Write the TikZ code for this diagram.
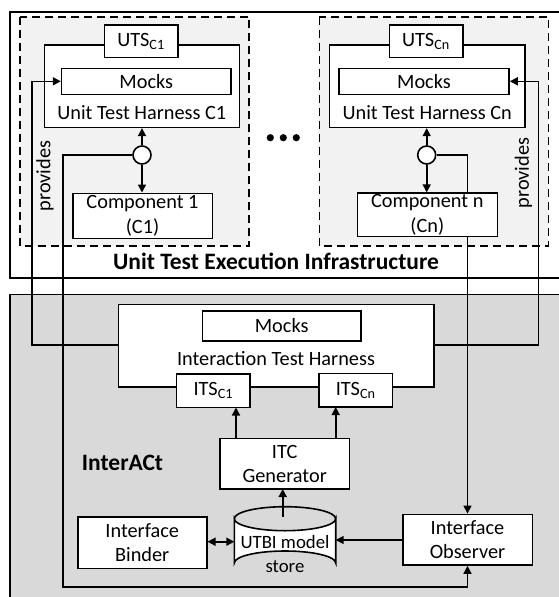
\documentclass[tikz,border=0pt]{standalone}
\usepackage{fontspec}
\setmainfont{Carlito}
\usetikzlibrary{arrows.meta}
\pgfdeclarelayer{back}
\pgfdeclarelayer{mid}
\pgfsetlayers{back,mid,main}
\definecolor{grayfill}{HTML}{D9D9D9}
\definecolor{lightfill}{HTML}{F2F2F2}
\tikzset{
  every node/.style={font=\fontsize{20.3}{24.3}\selectfont},
  boldtxt/.style={inner sep=0pt, font=\fontsize{23.5}{28}\selectfont\bfseries},
  box/.style={draw, fill=white, line width=1.6pt, inner sep=0pt, align=center},
  lbl/.style={inner sep=0pt, align=center},
  arr/.style={line width=1.6pt, -{Triangle[length=8pt,width=8pt]}},
  darr/.style={line width=1.6pt, {Triangle[length=8pt,width=8pt]}-{Triangle[length=8pt,width=8pt]}},
  dashbox/.style={draw, fill=lightfill, line width=1.6pt, dash pattern=on 8pt off 5pt},
  joint/.style={draw, fill=white, circle, line width=1.6pt, minimum size=18pt, inner sep=0pt},
}
\begin{document}
\begin{tikzpicture}[x=1pt,y=-1pt]
\useasboundingbox (0,0) rectangle (559,597);
\clip (0,0) rectangle (559,597);

% outer areas
\begin{pgfonlayer}{back}
  \draw[line width=1.6pt, fill=white] (10,12) rectangle (570,277.7);
  \draw[line width=1.6pt, fill=grayfill] (10,294.3) rectangle (570,610);
  \draw[dashbox] (20,16.7) rectangle (249,246);
  \draw[dashbox] (319.3,16.7) rectangle (548.3,246);
\end{pgfonlayer}

% left unit test harness
\node[box, minimum width=195pt, minimum height=82.3pt] (h1) at (141.8,86.2) {};
\node[box, minimum width=73.4pt, minimum height=32.7pt] (uts1) at (141,41.3) {UTS\textsubscript{C1}};
\node[box, minimum width=169.3pt, minimum height=26pt] (m1) at (146.3,81.3) {Mocks};
\node[lbl] (h1l) at (141.8,113) {Unit Test Harness C1};
\node[joint] (j1) at (142,155) {};
\node[box, minimum width=139.6pt, minimum height=45pt] (c1) at (142.5,215.8) {Component 1\\(C1)};

% right unit test harness
\node[box, minimum width=195.7pt, minimum height=82.3pt] (hn) at (427.2,86.2) {};
\node[box, minimum width=73.4pt, minimum height=32.7pt] (utsn) at (426,41.3) {UTS\textsubscript{Cn}};
\node[box, minimum width=170pt, minimum height=26pt] (mn) at (424,81.3) {Mocks};
\node[lbl] (hnl) at (427.2,113) {Unit Test Harness Cn};
\node[joint] (jn) at (426.7,155) {};
\node[box, minimum width=140pt, minimum height=43.5pt] (cn) at (427.3,214.9) {Component n\\(Cn)};

% dots
\fill (270.3,137.7) circle (3.6pt) (283.3,137.7) circle (3.6pt) (296.3,137.7) circle (3.6pt);

\node[boldtxt] (uteil) at (276,261.7) {Unit Test Execution Infrastructure};

% interaction test harness
\node[box, minimum width=315.7pt, minimum height=82.4pt] (ith) at (276.2,345.5) {};
\node[box, minimum width=158.7pt, minimum height=30pt] (mith) at (281.7,326) {Mocks};
\node[lbl] (ithl) at (276,358.3) {Interaction Test Harness};
\node[box, minimum width=73.3pt, minimum height=33.5pt] (its1) at (213.3,390.7) {ITS\textsubscript{C1}};
\node[box, minimum width=73.3pt, minimum height=33.5pt] (itsn) at (355.7,390.2) {ITS\textsubscript{Cn}};
\node[box, minimum width=129.3pt, minimum height=50.7pt] (itc) at (284.7,463.7) {ITC\\Generator};

\node[boldtxt] (interact) at (122.5,463.3) {InterACt};

% cylinder
\node[inner sep=0pt, minimum width=101.4pt, minimum height=68.3pt] (cyl) at (285,540.85) {};
\draw[line width=1.6pt, fill=white] (234.3,518.7) -- (234.3,563) arc[start angle=180, end angle=360, x radius=50.7, y radius=12] -- (335.7,518.7) arc[start angle=0, end angle=180, x radius=50.7, y radius=12] -- cycle;
\draw[line width=1.6pt] (234.3,518.7) arc[start angle=180, end angle=360, x radius=50.7, y radius=12];
\node[lbl, font=\fontsize{18.8}{24.3}\selectfont] (cyll) at (285,553.9) {UTBI model\\store};

\node[box, minimum width=129pt, minimum height=51.6pt] (binder) at (142.2,542.5) {Interface\\Binder};
\node[box, minimum width=129.6pt, minimum height=50.7pt] (observer) at (467.5,539.7) {Interface\\Observer};

\node[lbl, rotate=90] (prov1) at (45,176) {provides};
\node[lbl, rotate=90] (provn) at (523.5,173) {provides};

% connectors
\draw[arr] (j1) -- (h1.south -| j1);
\draw[arr] (j1) -- (c1.north -| j1);
\draw[arr] (jn) -- (hn.south -| jn);
\draw[arr] (jn) -- (cn.north -| jn);
\draw[arr] (ith.west |- 0,345) -- (31.7,345) -- (31.7,81.3) -- (m1.west);
\draw[arr] (ith.east |- 0,345) -- (538.3,345) -- (538.3,81.3) -- (mn.east);
\draw[arr] (j1.west) -- (62.7,155) -- (62.7,586.7) -- (observer.south |- 0,586.7) -- (observer.south);
\begin{pgfonlayer}{mid}
\draw[arr] (jn.east) -- (467.5,155) -- (observer.north);
\end{pgfonlayer}
\draw[arr] (236,438.3) -- (236,407.5);
\draw[arr] (335.7,438.3) -- (335.7,407);
\draw[arr] (282.7,517) -- (282.7,489);
\draw[darr] (binder.east |- 0,541.7) -- (234.3,541.7);
\draw[arr] (observer.west |- 0,540) -- (335.7,540);
\end{tikzpicture}
\end{document}
